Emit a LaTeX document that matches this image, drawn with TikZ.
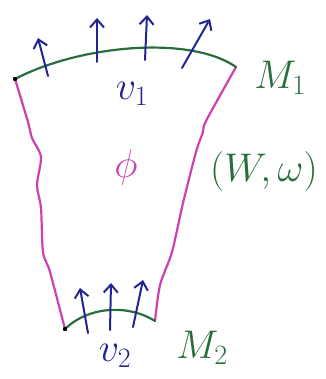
\RequirePackage{fix-cm}
\documentclass[tikz,border=0pt]{standalone}
\usetikzlibrary{arrows.meta}

\definecolor{inkgreen}{RGB}{40,110,60}
\definecolor{inkblue}{RGB}{35,35,150}
\definecolor{inkpink}{RGB}{205,65,175}

\begin{document}
\begin{tikzpicture}[
    x=1pt, y=-1pt,
    line cap=round, line join=round,
    rim/.style={inkgreen, line width=2.2pt},
    wall/.style={inkpink, line width=2.2pt},
    vel/.style={inkblue, line width=2pt, -{Straight Barb[length=8pt, width=14pt]}},
    lbl/.style={inner sep=0pt, font=\fontsize{40}{44}\selectfont}
]
    \useasboundingbox (0,0) rectangle (325,379);

    % corners of the slab
    \coordinate (tl) at (15,79);
    \coordinate (tr) at (236,67);
    \coordinate (bl) at (65,329);
    \coordinate (br) at (155,321);

    % side walls
    \draw[wall] plot[smooth, tension=0.45] coordinates {(tl) (28,122) (32,138) (41,157) (37,185) (41,208) (43,252) (50,272) (bl)};
    \draw[wall] plot[smooth, tension=0.45] coordinates {(tr) (206,121) (203,132) (196,152) (183,203) (172,252) (160,285) (br)};

    % surfaces M1 and M2
    \draw[rim] (tl) .. controls (80,45) and (190,35) .. (tr);
    \draw[rim] (bl) .. controls (90,305) and (130,305) .. (br);
    \fill (tl) circle (2.2pt);
    \fill (bl) circle (2.2pt);

    % outflow
    \draw[vel] (48,76) -- (38,38);
    \draw[vel] (97,62) -- (97,18);
    \draw[vel] (145,60) -- (147,15);
    \draw[vel] (182,68) -- (210,19);

    % inflow
    \draw[vel] (88,333) -- (80,288);
    \draw[vel] (110,330) -- (111,283);
    \draw[vel] (133,327) -- (143,280);

    \node[lbl, inkblue] (v1) at (132,94) {$v_1$};
    \node[lbl, inkgreen] (m1) at (280,78) {$M_1$};
    \node[lbl, inkpink] (phi) at (126,168) {$\phi$};
    \node[lbl, inkgreen] (bulk) at (264,172) {$(W,\omega)$};
    \node[lbl, inkblue] (v2) at (115,356) {$v_2$};
    \node[lbl, inkgreen] (m2) at (202,348) {$M_2$};
\end{tikzpicture}
\end{document}
